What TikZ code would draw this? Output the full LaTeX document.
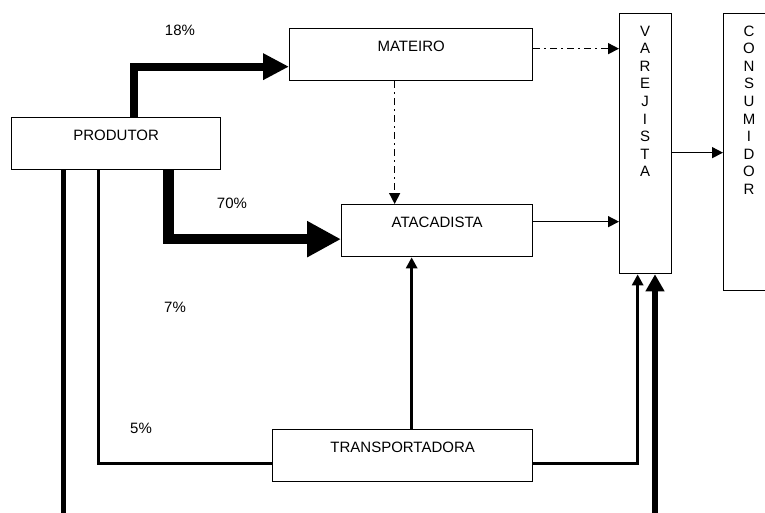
\documentclass[tikz,border=0pt]{standalone}
\usepackage{fontspec}
\setmainfont{Liberation Sans}
\usetikzlibrary{arrows.meta}
\tikzset{
  box/.style={draw, line width=1.3pt, rectangle, anchor=north west, inner sep=0pt,
    minimum height=52pt, text height=11.5pt, text depth=17.5pt},
  vbox/.style={draw, line width=1.3pt, rectangle, anchor=north west, inner sep=0pt},
  vtext/.style={anchor=north, inner sep=0pt, align=center, font=\fontsize{15}{17.6}\selectfont},
  lbl/.style={inner sep=0pt},
  thin/.style={line width=1.5pt, -{Triangle[length=11pt,width=11pt]}},
  dd/.style={line width=1.5pt, dash pattern=on 7pt off 4pt on 2pt off 4pt, -{Triangle[length=11pt,width=11pt]}},
  med/.style={line width=3.5pt},
  meda/.style={line width=3.5pt, -{Triangle[length=11pt,width=11pt]}},
}
\begin{document}
\begin{tikzpicture}[x=1pt,y=-1pt,font=\fontsize{15}{18}\selectfont, line join=miter]
\clip (0,0) rectangle (765,512);
\fill[white] (0,0) rectangle (765,512);
% boxes
\node[box, minimum width=209pt] (prod) at (11,117) {PRODUTOR};
\node[box, minimum width=243pt] (mat) at (289,28) {MATEIRO};
\node[box, minimum width=191pt] (ata) at (341,204) {ATACADISTA};
\node[box, minimum width=260pt] (trans) at (272,429) {TRANSPORTADORA};
\node[vbox, minimum width=52pt, minimum height=260pt] (var) at (619,13) {};
\node[vbox, minimum width=60pt, minimum height=277pt] (cons) at (723,13) {};
\node[vtext] (vart) at (645,25.5) {V\\A\\R\\E\\J\\I\\S\\T\\A};
\node[vtext] (const) at (749,25.5) {C\\O\\N\\S\\U\\M\\I\\D\\O\\R};
% labels
\node[lbl] (l18) at (180,30) {18\%};
\node[lbl] (l70) at (232,203) {70\%};
\node[lbl] (l7) at (175,307) {7\%};
\node[lbl] (l5) at (141,428) {5\%};
% coordinates
\coordinate (p18) at ([xshift=17.5pt]prod.north);
\coordinate (m18) at ([yshift=-12pt]mat.west);
\coordinate (p70) at ([xshift=52.5pt]prod.south);
\coordinate (a70) at ([yshift=-8.5pt]ata.west);
\coordinate (m1) at ([yshift=6pt]mat.east);
\coordinate (m2) at ([xshift=-16.5pt]mat.south);
\coordinate (a1) at ([yshift=9pt]ata.east);
\coordinate (v1) at ([yshift=-9pt]var.east);
\coordinate (t1) at ([xshift=9pt]trans.north);
\coordinate (p5) at ([xshift=-17.5pt]prod.south);
\coordinate (t2) at ([yshift=-8pt]trans.west);
\coordinate (t3) at ([yshift=-8pt]trans.east);
\coordinate (v2) at ([xshift=-8pt]var.south);
\coordinate (p7) at ([xshift=-52.5pt]prod.south);
\coordinate (bl) at (63,520);
\coordinate (br) at (655,520);
% connectors
\draw[line width=8pt, -{Triangle[length=26pt,width=25pt]}] (p18) |- (m18);
\draw[line width=10.5pt, -{Triangle[length=34pt,width=34pt]}] (p70) |- (a70);
\draw[dd] (m1) -- (m1 -| var.west);
\draw[dd] (m2) -- (m2 |- ata.north);
\draw[thin] (a1) -- (a1 -| var.west);
\draw[thin] (v1) -- (v1 -| cons.west);
\draw[meda] (t1) -- (t1 |- ata.south);
\draw[med] (p5) |- (t2);
\draw[meda] (t3) -| (v2);
\draw[line width=5pt] (p7) -- (p7 |- bl);
\draw[line width=6pt, -{Triangle[length=17pt,width=18pt]}] (br) -- (br |- var.south);
\end{tikzpicture}
\end{document}
